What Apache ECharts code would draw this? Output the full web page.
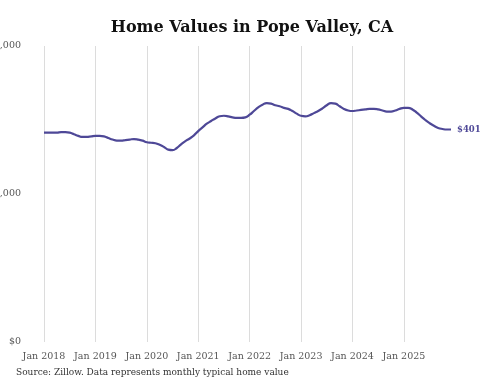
<!DOCTYPE html>
<html>
<head>
<meta charset="utf-8">
<script src="https://cdn.jsdelivr.net/npm/echarts@6/dist/echarts.min.js"></script>
<style>html,body{margin:0;padding:0;background:#fff;}#c{width:480px;height:384px;}</style>
</head>
<body>
<div id="c"></div>
<script>
const years = [2018, 2019, 2020, 2021, 2022, 2023, 2024, 2025];
const monthNames = ['Jan','Feb','Mar','Apr','May','Jun','Jul','Aug','Sep','Oct','Nov','Dec'];
const categories = [];
years.forEach(y => monthNames.forEach(m => categories.push(m + ' ' + y)));

const homeValues = [
  396000, 396000, 396000, 396000, 397000, 397000, 396000, 393000, 390000, 388000, 388000, 389000,
  390000, 390000, 389000, 386000, 383000, 381000, 381000, 382000, 383000, 384000, 383000, 381000,
  378000, 377000, 376000, 373000, 369000, 364000, 363000, 367000, 374000, 380000, 385000, 391000,
  399000, 406000, 413000, 418000, 423000, 427000, 428000, 427000, 425000, 424000, 424000, 425000,
  430000, 437000, 444000, 449000, 452000, 451000, 448000, 446000, 443000, 441000, 437000, 432000,
  428000, 427000, 429000, 433000, 437000, 442000, 448000, 452000, 451000, 446000, 441000, 438000,
  437000, 438000, 439000, 440000, 441000, 441000, 440000, 438000, 436000, 436000, 438000, 441000,
  443000, 443000, 440000, 434000, 427000, 420000, 414000, 409000, 405000, 403000, 402000, 402000
];
const endLabelText = '$401,542';
const yTicks = [0, 280000, 560000];

const chart = echarts.init(document.getElementById('c'));
chart.setOption({
  animation: false,
  title: {
    text: 'Home Values in Pope Valley, CA',
    left: 247, top: 15, textAlign: 'center',
    textStyle: { fontFamily: 'DejaVu Serif', fontWeight: 'bold', fontSize: 16, color: '#111' }
  },
  graphic: [{
    type: 'text', left: 16, top: 368,
    style: { text: 'Source: Zillow. Data represents monthly typical home value',
      font: '9px "DejaVu Serif"', fill: '#333' }
  }],
  grid: { left: 44, right: 29, top: 46, bottom: 42, containLabel: false, outerBoundsMode: 'none' },
  xAxis: {
    type: 'category', data: categories, boundaryGap: false,
    axisLine: { show: false }, axisTick: { show: false },
    axisLabel: {
      interval: (i) => i % 12 === 0, margin: 10,
      fontFamily: 'DejaVu Serif', fontSize: 9.5, color: '#555'
    },
    splitLine: { show: true, interval: (i) => i % 12 === 0, lineStyle: { color: '#dcdcdc', width: 1 } }
  },
  yAxis: {
    type: 'value', min: yTicks[0], max: yTicks[2], interval: yTicks[1],
    axisLine: { show: false }, axisTick: { show: false }, splitLine: { show: false },
    axisLabel: {
      margin: 23, fontFamily: 'DejaVu Serif', fontSize: 9.5, color: '#555',
      formatter: (v) => '$' + v.toLocaleString('en-US')
    }
  },
  series: [{
    type: 'line', data: homeValues, smooth: true, showSymbol: false,
    lineStyle: { color: '#4e4897', width: 2.2 },
    endLabel: { show: true, formatter: endLabelText, distance: 6,
      fontFamily: 'DejaVu Serif', fontWeight: 'bold', fontSize: 8.5, color: '#4e4897' }
  }]
});
</script>
</body>
</html>
